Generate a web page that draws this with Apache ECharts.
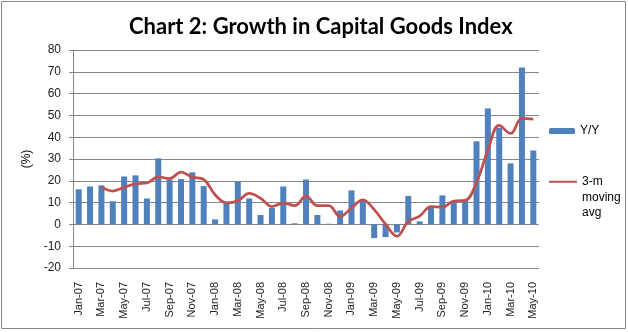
<!DOCTYPE html>
<html>
<head>
<meta charset="utf-8">
<script src="https://cdn.jsdelivr.net/npm/echarts@6/dist/echarts.min.js"></script>
<style>
  html, body { margin: 0; padding: 0; background: #fff; }
  #chart { width: 628px; height: 332px; }
</style>
</head>
<body>
<div id="chart"></div>
<script>
// Monthly categories, Jan-07 to May-10
const months = [
  'Jan-07','Feb-07','Mar-07','Apr-07','May-07','Jun-07','Jul-07','Aug-07','Sep-07','Oct-07','Nov-07','Dec-07',
  'Jan-08','Feb-08','Mar-08','Apr-08','May-08','Jun-08','Jul-08','Aug-08','Sep-08','Oct-08','Nov-08','Dec-08',
  'Jan-09','Feb-09','Mar-09','Apr-09','May-09','Jun-09','Jul-09','Aug-09','Sep-09','Oct-09','Nov-09','Dec-09',
  'Jan-10','Feb-10','Mar-10','Apr-10','May-10'
];

// Year-on-year growth (%)
const yoy = [
  16.1, 17.4, 17.9, 10.6, 22.0, 22.5, 11.9, 30.3, 20.5, 20.8, 23.9, 17.6,
  2.3, 9.8, 19.6, 11.9, 4.3, 7.5, 17.4, 0.5, 20.6, 4.3, 0.3, 6.4,
  15.6, 11.5, -6.3, -5.8, -3.7, 13.0, 1.4, 8.4, 13.3, 10.2, 11.0, 38.1,
  53.2, 44.3, 28.0, 72.0, 33.9
];

// 3-month moving average (%), first two months undefined
const movingAvg = [
  null, null, 17.2, 15.3, 17.0, 18.6, 19.0, 21.8, 21.0, 24.0, 21.7, 20.6,
  13.6, 9.9, 10.8, 14.2, 12.0, 8.2, 9.8, 8.6, 13.0, 8.6, 8.6, 3.7,
  7.5, 11.3, 6.8, 0.1, -5.4, 1.3, 3.8, 8.2, 7.9, 10.7, 11.0, 19.2,
  34.0, 45.4, 41.7, 48.6, 48.3
];

// Value axis range
const yMin = -20, yMax = 80, yStep = 10;

const chart = echarts.init(document.getElementById('chart'), null, { renderer: 'canvas' });
const axisGray = '#868686';
const font = 'Liberation Sans';

chart.setOption({
  animation: false,
  backgroundColor: '#fff',
  title: {
    text: 'Chart 2: Growth in Capital Goods Index',
    left: 124,
    top: 11,
    textStyle: { fontFamily: 'Lato', fontWeight: 'bold', fontSize: 22, color: '#000' }
  },
  graphic: [{
    type: 'rect',
    shape: { x: 1.5, y: 1.5, width: 624, height: 327 },
    style: { fill: 'none', stroke: axisGray, lineWidth: 1 },
    silent: true
  }],
  legend: [{
    data: ['Y/Y'],
    left: 544, top: 120,
    itemWidth: 26, itemHeight: 6, itemGap: 2,
    textStyle: { fontFamily: font, fontSize: 12, color: '#000' }
  }, {
    data: [{ name: '3-m moving avg', icon: 'rect' }],
    left: 544, top: 138,
    itemWidth: 28, itemHeight: 2, itemGap: 2,
    // two leading blank lines keep the first word level with the line swatch
    formatter: n => '\n\n' + n.replace(/ /g, '\n'),
    textStyle: { fontFamily: font, fontSize: 12, lineHeight: 15.5, color: '#000' }
  }],
  grid: { left: 73, right: 89, top: 50, bottom: 64 },
  xAxis: {
    type: 'category',
    data: months,
    boundaryGap: true,
    axisLine: { show: false },
    axisTick: { show: false },
    axisLabel: {
      interval: 1, rotate: 90, margin: 14,
      fontFamily: font, fontSize: 11, color: '#222'
    },
    splitLine: { show: false }
  },
  yAxis: {
    type: 'value',
    min: yMin, max: yMax, interval: yStep,
    name: '(%)',
    nameLocation: 'middle', nameRotate: 90, nameGap: 40,
    nameTextStyle: { fontFamily: font, fontSize: 12, color: '#000' },
    axisLine: { show: true, lineStyle: { color: axisGray, width: 1 } },
    axisTick: { show: true, inside: false, length: 4, lineStyle: { color: axisGray } },
    axisLabel: { fontFamily: font, fontSize: 12, color: '#222', margin: 12 },
    splitLine: { show: true, lineStyle: { color: axisGray, width: 1 } }
  },
  series: [{
    name: 'Y/Y',
    type: 'bar',
    data: yoy,
    barWidth: 6,
    itemStyle: { color: '#4F81BD' }
  }, {
    name: '3-m moving avg',
    type: 'line',
    data: movingAvg,
    smooth: 0.4,
    showSymbol: false,
    symbol: 'none',
    connectNulls: false,
    lineStyle: { color: '#C0504D', width: 2.75 },
    itemStyle: { color: '#C0504D' }
  }]
});
</script>
</body>
</html>
